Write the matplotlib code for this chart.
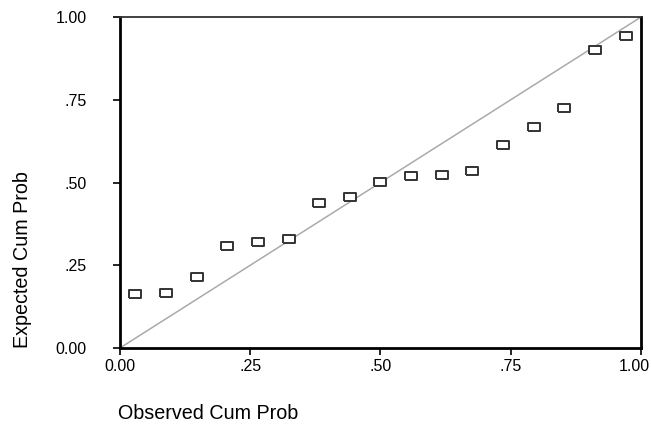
import matplotlib
matplotlib.use("Agg")
import matplotlib.pyplot as plt
from matplotlib.transforms import ScaledTranslation

# P-P plot: observed vs expected cumulative probability
observed = [0.029, 0.088, 0.147, 0.206, 0.265, 0.324, 0.382, 0.441, 0.500,
            0.559, 0.618, 0.676, 0.735, 0.794, 0.853, 0.912, 0.971]
expected = [0.163, 0.167, 0.215, 0.308, 0.321, 0.330, 0.437, 0.455, 0.501,
            0.519, 0.523, 0.536, 0.612, 0.669, 0.725, 0.900, 0.944]
ticks = [0.0, 0.25, 0.5, 0.75, 1.0]
x_ticklabels = ["0.00", ".25", ".50", ".75", "1.00"]
y_ticklabels = ["0.00", ".25", ".50", ".75", "1.00"]

plt.rcParams["font.family"] = ["Liberation Sans", "DejaVu Sans"]

fig = plt.figure(figsize=(6.51, 4.26), dpi=100)
ax = fig.add_axes([0.1843, 0.1831, 0.8003, 0.7769])

ax.plot([0, 1], [0, 1], color="#aaaaaa", linewidth=1.1, zorder=1)

rect = [(-1.6, -1), (1.6, -1), (1.6, 1), (-1.6, 1), (-1.6, -1)]
ax.plot(observed, expected, linestyle="none", marker=rect, markersize=9,
        markerfacecolor="white", markeredgecolor="#333333",
        markeredgewidth=1.4, zorder=3)

ax.set_xlim(0, 1)
ax.set_ylim(0, 1)
ax.set_xticks(ticks)
ax.set_xticklabels(x_ticklabels)
ax.set_yticks(ticks)
ax.set_yticklabels(y_ticklabels)
ax.tick_params(axis="both", direction="out", length=5, width=1.2,
               labelsize=11.5, colors="black")
ax.tick_params(axis="x", pad=3)
ax.tick_params(axis="y", pad=19)

# last x label sits a bit left so it stays inside the figure
last = ax.get_xticklabels()[-1]
last.set_transform(last.get_transform() + ScaledTranslation(-0.07, 0, fig.dpi_scale_trans))

for side in ["left", "bottom", "right"]:
    ax.spines[side].set_linewidth(2)
    ax.spines[side].set_color("black")
ax.spines["top"].set_linewidth(1.3)
ax.spines["top"].set_color("#333333")

fig.text(0.181, 0.0305, "Observed Cum Prob", fontsize=14.2, ha="left", va="center")
fig.text(0.034, 0.39, "Expected Cum Prob", fontsize=14.2, ha="center",
         va="center", rotation=90)

fig.savefig("out.png", dpi=100)
